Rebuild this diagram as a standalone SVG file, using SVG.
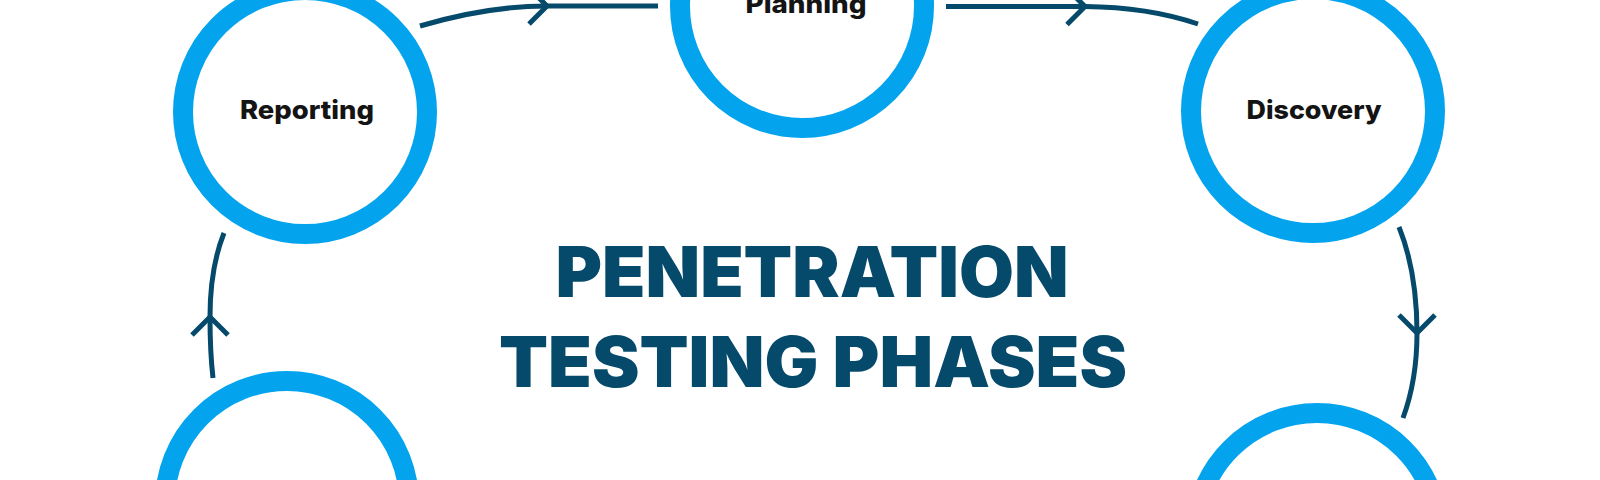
<svg xmlns="http://www.w3.org/2000/svg" width="1600" height="480" viewBox="0 0 1600 480">
  <defs>
    <style>
      .ring { fill: #ffffff; stroke: #03a3ee; stroke-width: 20; }
      .label { font-family: Inter, "Liberation Sans", Arial, sans-serif; font-weight: 800; font-size: 26px; fill: #141414; text-anchor: middle; }
      .title { font-family: Inter, "Liberation Sans", Arial, sans-serif; font-weight: 900; font-size: 70px; fill: #064a6b; text-anchor: middle; }
      .conn { fill: none; stroke: #064a6b; stroke-width: 5; stroke-linecap: butt; }
    </style>
    <marker id="chev" markerUnits="userSpaceOnUse" viewBox="-24 -24 48 48" markerWidth="48" markerHeight="48" refX="0" refY="0" orient="auto" overflow="visible">
      <polyline points="-18,-18 0,0 -18,18" fill="none" stroke="#064a6b" stroke-width="5"/>
    </marker>
  </defs>
  <rect x="0" y="0" width="1600" height="480" fill="#ffffff"/>

  <g id="connectors">
    <path class="conn" d="M420,26 Q488,6 547,6" marker-end="url(#chev)"/>
    <path class="conn" d="M547,6 L658,6"/>
    <path class="conn" d="M946,6.5 L1085,6.5" marker-end="url(#chev)"/>
    <path class="conn" d="M1085,6.5 Q1148,7 1198,24"/>
    <path class="conn" d="M1399,227 Q1417,272 1417,333" marker-end="url(#chev)"/>
    <path class="conn" d="M1417,333 Q1417,380 1403,418"/>
    <path class="conn" d="M213,378 Q210,352 210,317" marker-end="url(#chev)"/>
    <path class="conn" d="M210,317 Q210,268 224,233"/>
  </g>

  <g id="node-reporting">
    <circle class="ring" cx="305" cy="112" r="122"/>
    <text class="label" x="307" y="119" textLength="134" lengthAdjust="spacingAndGlyphs">Reporting</text>
  </g>
  <g id="node-planning">
    <circle class="ring" cx="802" cy="6" r="122"/>
    <text class="label" x="806" y="13" textLength="121" lengthAdjust="spacingAndGlyphs">Planning</text>
  </g>
  <g id="node-discovery">
    <circle class="ring" cx="1313" cy="111" r="122"/>
    <text class="label" x="1314" y="119" textLength="135" lengthAdjust="spacingAndGlyphs">Discovery</text>
  </g>
  <g id="node-bottom-right">
    <circle class="ring" cx="1317" cy="535" r="122"/>
  </g>
  <g id="node-bottom-left">
    <circle class="ring" cx="287" cy="503" r="122"/>
  </g>

  <g id="title">
    <text class="title" x="812" y="297" textLength="513" lengthAdjust="spacingAndGlyphs">PENETRATION</text>
    <text class="title" x="813" y="387" textLength="628" lengthAdjust="spacingAndGlyphs">TESTING PHASES</text>
  </g>
</svg>
